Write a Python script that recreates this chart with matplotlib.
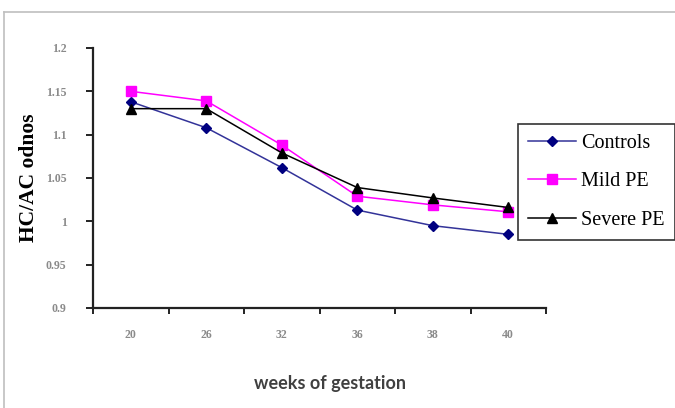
import numpy as np
import matplotlib
matplotlib.use("Agg")
import matplotlib.pyplot as plt
from matplotlib.lines import Line2D

# Data
weeks = ["20", "26", "32", "36", "38", "40"]
controls = [1.138, 1.108, 1.062, 1.013, 0.995, 0.985]
mild_pe = [1.150, 1.139, 1.088, 1.029, 1.019, 1.011]
severe_pe = [1.130, 1.130, 1.079, 1.039, 1.027, 1.016]
y_ticks = [0.9, 0.95, 1.0, 1.05, 1.1, 1.15, 1.2]
y_tick_labels = ["0.9", "0.95", "1", "1.05", "1.1", "1.15", "1.2"]

W, H = 675, 408
fig = plt.figure(figsize=(W / 100, H / 100), dpi=100)

# gray frame (only left and top edges visible)
fig.add_artist(Line2D([3.5 / W, 3.5 / W], [0, 1 - 11.5 / H], color="#BFBFBF", lw=1.2))
fig.add_artist(Line2D([3.5 / W, 1], [1 - 11.5 / H, 1 - 11.5 / H], color="#BFBFBF", lw=1.2))

ax = fig.add_axes([93 / W, 1 - 308 / H, 453 / W, 260 / H])
x = np.arange(len(weeks))

ax.plot(x, controls, color="#333399", lw=1.1, marker="D", ms=5.5,
        mfc="#000080", mec="#000080", label="Controls")
ax.plot(x, mild_pe, color="#FF00FF", lw=1.1, marker="s", ms=7,
        mfc="#FF00FF", mec="#FF00FF", label="Mild PE")
ax.plot(x, severe_pe, color="#000000", lw=1.1, marker="^", ms=7,
        mfc="#000000", mec="#000000", label="Severe PE")

ax.set_xlim(-0.5, len(weeks) - 0.5)
ax.set_ylim(0.9, 1.2)

for s in ["top", "right"]:
    ax.spines[s].set_visible(False)
for s in ["left", "bottom"]:
    ax.spines[s].set_linewidth(1.6)
    ax.spines[s].set_color("#222222")

ax.set_yticks(y_ticks)
ax.set_yticklabels(y_tick_labels, family="Liberation Serif", fontsize=8.5,
                   fontweight="bold", color="#8a8a8a")
ax.tick_params(axis="y", direction="out", length=5, width=1.4, color="#222222", pad=14)

ax.set_xticks(np.arange(len(weeks) + 1) - 0.5, minor=True)
ax.set_xticks(x)
ax.set_xticklabels(weeks, family="Liberation Serif", fontsize=8.5,
                   fontweight="bold", color="#8a8a8a")
ax.tick_params(axis="x", which="major", length=0, pad=15)
ax.tick_params(axis="x", which="minor", direction="out", length=4, width=1.4, color="#222222")

fig.text(29 / W, 1 - 178 / H, "HC/AC odnos", rotation=90, ha="center", va="center",
         family="Liberation Serif", fontweight="bold", fontsize=15.5)
fig.text(330 / W, 1 - 384 / H, "weeks of gestation", ha="center", va="center",
         family="Lato", fontweight="bold", fontsize=13, color="#404040")

leg = fig.legend(loc="upper left", bbox_to_anchor=(518 / W, 1 - 124 / H),
                 prop={"family": "Liberation Serif", "size": 14.5},
                 frameon=True, fancybox=False, edgecolor="#000000",
                 labelspacing=0.95, handlelength=2.4, handletextpad=0.25,
                 borderpad=0.5, borderaxespad=0)
leg.get_frame().set_linewidth(1.2)

fig.savefig("out.png", dpi=100)
